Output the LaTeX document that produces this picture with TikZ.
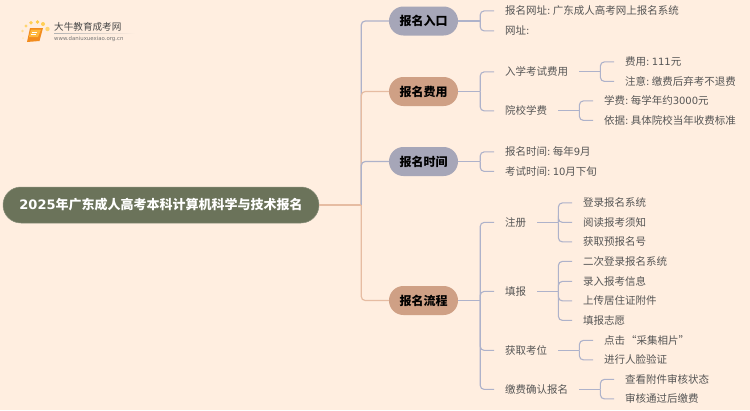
\documentclass[tikz,border=0pt]{standalone}
\usepackage{fontspec}
\setmainfont{Noto Sans CJK SC}
\newfontfamily\latf{DejaVu Sans}
\newcommand\ltn[1]{{\latf\fontsize{10}{12}\selectfont #1}}
\newcommand\cln{{\latf\fontsize{10}{12}\selectfont :}\hspace{2.2pt}}
\definecolor{bgc}{HTML}{FFEEE0}
\definecolor{greyline}{HTML}{AEB2CA}
\definecolor{orangeline}{HTML}{E6BCA2}
\definecolor{greypill}{HTML}{A6A6B8}
\definecolor{orangepill}{HTML}{CFA085}
\definecolor{rootc}{HTML}{6B735A}
\definecolor{txt}{HTML}{555555}
\definecolor{bookdark}{HTML}{F28C1E}
\definecolor{booklight}{HTML}{FFB73A}
\tikzset{
  rootbox/.style={fill=rootc,draw=rootc!80!white,line width=0.5pt,rounded corners=17.9pt,minimum width=316pt,minimum height=36pt,inner sep=0pt,text=white,font=\fontsize{13}{15}\selectfont\bfseries},
  pillbox/.style={rounded corners=14.4pt,minimum width=69pt,minimum height=29pt,inner sep=0pt,text=black,font=\fontsize{12}{14}\selectfont\bfseries},
  gpill/.style={pillbox,fill=greypill},
  opill/.style={pillbox,fill=orangepill},
  leaf/.style={anchor=west,inner xsep=11pt,inner ysep=0pt,yshift=-0.4pt,text=txt,font=\fontsize{10.5}{12}\selectfont},
  conn/.style={draw=greyline,line width=1.1pt,rounded corners=4pt},
  oconn/.style={draw=orangeline,line width=1.2pt,rounded corners=4pt},
  bconn/.style={draw=greyline,line width=1.2pt,rounded corners=4pt}
}
\begin{document}
\begin{tikzpicture}[x=1pt,y=-1pt]
\fill[bgc] (0,0) rectangle (750,410);
\useasboundingbox (0,0) rectangle (750,410);
% logo
\foreach \px/\py/\r/\c in {23/38/1/FFE9B8,22.5/31/1.3/FFDD90,26/26/1.6/FFD570,31/22.7/1.9/FFCF55,37.5/22/1.9/FFCB45,43/24/2/FFCF55,47.5/29/2.2/FFD570}{
  \definecolor{tmpc}{HTML}{\c}\fill[tmpc] (\px,\py) circle (\r);}
\fill[bookdark] (30,28) -- (43,28) -- (39.5,41) -- (27,42) -- cycle;
\fill[booklight] (31,29.5) -- (41,29.5) -- (38,37) -- (29,37) -- cycle;
\draw[white,line width=0.5pt] (32,32) -- (37,32) (31,34.5) -- (36,34.5);
\shade[left color=gray!60,right color=bgc] (54,33) rectangle (135,33.6);
\node[anchor=west,inner sep=0pt,text=black!72,font=\fontsize{9.6}{11}\selectfont] (brand) at (54,27) {大牛教育成考网};
\node[anchor=west,inner sep=0pt,text=black!55,font=\fontsize{5.4}{7}\selectfont] (url) at (54,39) {\latf www.daniuxuexiao.org.cn};

% main nodes
\node[rootbox] (root) at (161,205) {\ltn{\fontsize{13}{15}\selectfont\bfseries 2025}年广东成人高考本科计算机科学与技术报名};
\node[gpill] (p1) at (423.5,21) {报名入口};
\node[opill] (p2) at (423.5,91.5) {报名费用};
\node[gpill] (p3) at (423.5,161.5) {报名时间};
\node[opill] (p4) at (423.5,300.5) {报名流程};

% level 2
\node[leaf] (a1) at (494,10.5) {报名网址\cln 广东成人高考网上报名系统};
\node[leaf] (a2) at (494,30.5) {网址\ltn{:}};
\node[leaf] (b1) at (494,71.5) {入学考试费用};
\node[leaf] (b2) at (494,110.5) {院校学费};
\node[leaf] (c1) at (494,151.5) {报名时间\cln 每年\ltn{9}月};
\node[leaf] (c2) at (494,171) {考试时间\cln\ltn{10}月下旬};
\node[leaf] (d1) at (494,222) {注册};
\node[leaf] (d2) at (494,291) {填报};
\node[leaf] (d3) at (494,350) {获取考位};
\node[leaf] (d4) at (494,389) {缴费确认报名};

% level 3
\node[leaf] (b11) at (614,61.5) {费用\cln\ltn{111}元};
\node[leaf] (b12) at (614,81) {注意\cln 缴费后弃考不退费};
\node[leaf] (b21) at (593,100.5) {学费\cln 每学年约\ltn{3000}元};
\node[leaf] (b22) at (593,120) {依据\cln 具体院校当年收费标准};
\node[leaf] (d11) at (572,202.5) {登录报名系统};
\node[leaf] (d12) at (572,222) {阅读报考须知};
\node[leaf] (d13) at (572,241.5) {获取预报名号};
\node[leaf] (d21) at (572,261) {二次登录报名系统};
\node[leaf] (d22) at (572,281) {录入报考信息};
\node[leaf] (d23) at (572,300.5) {上传居住证附件};
\node[leaf] (d24) at (572,320) {填报志愿};
\node[leaf] (d31) at (593,340) {点击\hspace{1pt}“采集相片”};
\node[leaf] (d32) at (593,359.5) {进行人脸验证};
\node[leaf] (d41) at (614,379) {查看附件审核状态};
\node[leaf] (d42) at (614,398.5) {审核通过后缴费};

% trunk
\coordinate (tj) at ([xshift=42pt]root.east);
\draw[bconn] (tj) |- (p1.west);
\draw[oconn] (tj) |- (p2.west);
\draw[bconn] (tj) |- (p3.west);
\draw[oconn] (tj) |- (p4.west);
\draw[oconn,rounded corners=0pt] (root.east) -- (tj);

% branches
\foreach \s/\e in {p1/a1,p1/a2,p2/b1,p2/b2,p3/c1,p3/c2,p4/d1,p4/d2,p4/d3,p4/d4}{
  \coordinate (j) at ([xshift=22pt]\s.east);
  \draw[conn] (\s.east) -- (j);
  \draw[conn] (j) |- (\e.west);}
\foreach \s/\e in {b1/b11,b1/b12,b2/b21,b2/b22,d1/d11,d1/d12,d1/d13,d2/d21,d2/d22,d2/d23,d2/d24,d3/d31,d3/d32,d4/d41,d4/d42}{
  \coordinate (j) at ([xshift=21pt]\s.east);
  \draw[conn] (\s.east) -- (j);
  \draw[conn] (j) |- (\e.west);}
\end{tikzpicture}
\end{document}
